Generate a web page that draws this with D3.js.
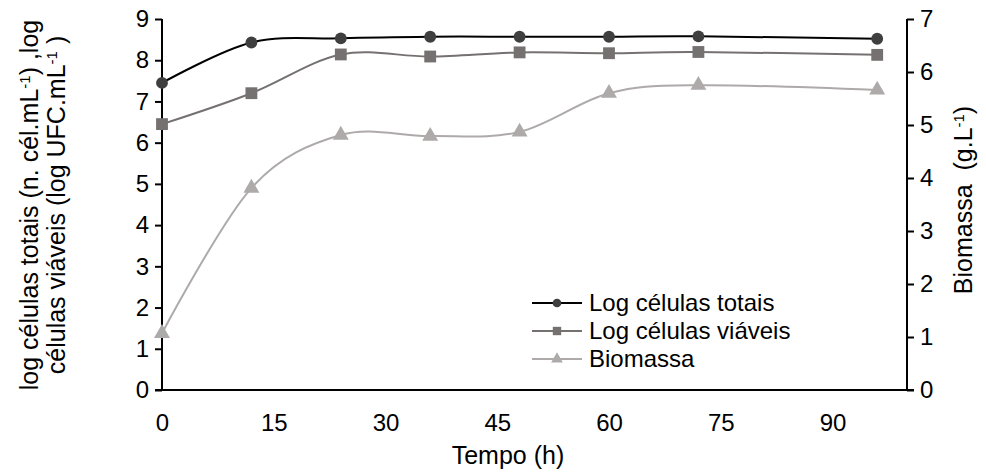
<!DOCTYPE html>
<html>
<head>
<meta charset="utf-8">
<script src="https://cdn.jsdelivr.net/npm/d3@7"></script>
<style>
  body { margin: 0; background: #fff; }
  text { font-family: 'Liberation Sans', Arial, sans-serif; fill: #000; }
</style>
</head>
<body>
<script>
const hours = [0, 12, 24, 36, 48, 60, 72, 96]
const logTotais = [7.45, 8.43, 8.53, 8.57, 8.57, 8.57, 8.58, 8.52]
const logViaveis = [6.45, 7.2, 8.14, 8.09, 8.19, 8.17, 8.2, 8.13]
const biomassa = [1.07, 3.81, 4.81, 4.79, 4.87, 5.6, 5.75, 5.66]
const xTicks = [0, 15, 30, 45, 60, 75, 90]
const leftTicks = [0, 1, 2, 3, 4, 5, 6, 7, 8, 9]
const rightTicks = [0, 1, 2, 3, 4, 5, 6, 7]
const seriesNames = ['Log células totais', 'Log células viáveis', 'Biomassa']

const width = 986
const height = 473
const plotLeft = 162
const plotRight = 907
const plotTop = 19
const plotBottom = 390

const svg = d3.select('body').append('svg')
  .attr('width', width)
  .attr('height', height)

const xScale = d3.scaleLinear().domain([0, 100]).range([plotLeft, plotRight])
const yLeft = d3.scaleLinear().domain([0, 9]).range([plotBottom, plotTop])
const yRight = d3.scaleLinear().domain([0, 7]).range([plotBottom, plotTop])

const series = [
  { name: seriesNames[0], values: logTotais, y: yLeft, line: '#000000', fill: '#3f3f3f', symbol: d3.symbolCircle, size: 110, legendSize: 60 },
  { name: seriesNames[1], values: logViaveis, y: yLeft, line: '#767171', fill: '#767171', symbol: d3.symbolSquare, size: 140, legendSize: 70 },
  { name: seriesNames[2], values: biomassa, y: yRight, line: '#aeaaaa', fill: '#aeaaaa', symbol: d3.symbolTriangle, size: 110, legendSize: 60 }
]

// axes
const fontTick = '24px'
const xAxis = d3.axisBottom(xScale).tickValues(xTicks).tickSize(0).tickPadding(24)
const leftAxis = d3.axisLeft(yLeft).tickValues(leftTicks).tickSize(7).tickPadding(6)
const rightAxis = d3.axisRight(yRight).tickValues(rightTicks).tickSize(7).tickPadding(6)
  .tickFormat(d3.format('d'))

function styleAxis (g) {
  g.select('.domain').remove()
  g.selectAll('line').attr('stroke', '#000').attr('stroke-width', 2)
  g.selectAll('text').attr('font-size', fontTick).attr('font-family', "'Liberation Sans', Arial, sans-serif")
}

svg.append('g')
  .attr('transform', `translate(0, ${plotBottom})`)
  .call(xAxis)
  .call(styleAxis)
svg.append('g')
  .attr('transform', `translate(${plotLeft}, 0)`)
  .call(leftAxis)
  .call(styleAxis)
svg.append('g')
  .attr('transform', `translate(${plotRight}, 0)`)
  .call(rightAxis)
  .call(styleAxis)

// axis lines
svg.append('line').attr('x1', plotLeft - 7).attr('x2', plotRight + 7).attr('y1', plotBottom).attr('y2', plotBottom)
  .attr('stroke', '#000').attr('stroke-width', 2)
svg.append('line').attr('x1', plotLeft).attr('x2', plotLeft).attr('y1', plotTop).attr('y2', plotBottom)
  .attr('stroke', '#000').attr('stroke-width', 2)
svg.append('line').attr('x1', plotRight).attr('x2', plotRight).attr('y1', plotTop).attr('y2', plotBottom)
  .attr('stroke', '#000').attr('stroke-width', 2)

// series
series.forEach(function (s) {
  const pts = hours.map(function (h, i) { return [h, s.values[i]] })
  const line = d3.line()
    .x(function (d) { return xScale(d[0]) })
    .y(function (d) { return s.y(d[1]) })
    .curve(d3.curveCardinal.tension(0))
  svg.append('path')
    .datum(pts)
    .attr('d', line)
    .attr('fill', 'none')
    .attr('stroke', s.line)
    .attr('stroke-width', 2)
  svg.append('g').selectAll('path')
    .data(pts)
    .enter()
    .append('path')
    .attr('d', d3.symbol().type(s.symbol).size(s.size))
    .attr('transform', function (d) { return `translate(${xScale(d[0])}, ${s.y(d[1])})` })
    .attr('fill', s.fill)
})

// legend
const legend = svg.append('g').attr('transform', 'translate(532, 303)')
series.forEach(function (s, i) {
  const row = legend.append('g').attr('transform', `translate(0, ${i * 28})`)
  row.append('line').attr('x1', 0).attr('x2', 50).attr('y1', 0).attr('y2', 0)
    .attr('stroke', s.line).attr('stroke-width', 2)
  row.append('path').attr('d', d3.symbol().type(s.symbol).size(s.legendSize))
    .attr('transform', 'translate(25, 0)')
    .attr('fill', s.fill)
  row.append('text').attr('x', 57).attr('y', 0).attr('dy', '0.35em')
    .attr('font-size', '24px')
    .text(s.name)
})

// axis titles
svg.append('text')
  .attr('x', 508)
  .attr('y', 464)
  .attr('text-anchor', 'middle')
  .attr('font-size', '25px')
  .text('Tempo (h)')

const leftTitle = svg.append('text')
  .attr('transform', 'translate(0, 205) rotate(-90)')
  .attr('text-anchor', 'middle')
  .attr('font-size', '25px')
const l1 = leftTitle.append('tspan').attr('x', 0).attr('y', 38)
l1.append('tspan').text('log células totais (n. cél.mL')
l1.append('tspan').attr('baseline-shift', 'super').attr('font-size', '15px').text('-1')
l1.append('tspan').text(') ,log')
const l2 = leftTitle.append('tspan').attr('x', 0).attr('y', 65)
l2.append('tspan').text('células viáveis (log UFC.mL')
l2.append('tspan').attr('baseline-shift', 'super').attr('font-size', '15px').text('-1')
l2.append('tspan').text(' )')

const rightTitle = svg.append('text')
  .attr('transform', 'translate(972, 200) rotate(-90)')
  .attr('text-anchor', 'middle')
  .attr('font-size', '25px')
rightTitle.append('tspan').text('Biomassa\u00a0\u00a0(g.L')
rightTitle.append('tspan').attr('baseline-shift', 'super').attr('font-size', '15px').text('-1')
rightTitle.append('tspan').text(')')
</script>
</body>
</html>
